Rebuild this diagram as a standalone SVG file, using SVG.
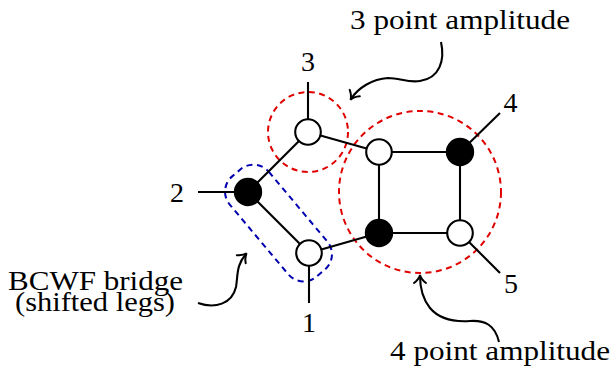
<svg xmlns="http://www.w3.org/2000/svg" width="616" height="367" viewBox="0 0 616 367">
<style>
  .edge { stroke: #000; stroke-width: 2.1; fill: none; }
  .wnode { fill: #fff; stroke: #000; stroke-width: 2.1; }
  .bnode { fill: #000; stroke: #000; stroke-width: 2; }
  .red { fill: none; stroke: #e00000; stroke-width: 2; stroke-dasharray: 6 4.5; }
  .blue { fill: none; stroke: #0000b0; stroke-width: 2; stroke-dasharray: 6 4.5; }
  .lbl { font-family: "Liberation Serif", "DejaVu Serif", serif; font-size: 28px; fill: #000; text-anchor: middle; }
  .ann { stroke: #000; stroke-width: 2.1; fill: none; marker-end: url(#tip); }
</style>
<defs>
  <marker id="tip" markerUnits="userSpaceOnUse" markerWidth="20" markerHeight="20" viewBox="-10 -10 20 20" refX="0" refY="0" orient="auto" overflow="visible">
    <path d="M -7,-6 C -4,-2 -1,-0.5 1,0 C -1,0.5 -4,2 -7,6" fill="none" stroke="#000" stroke-width="2" stroke-linecap="round"/>
  </marker>
</defs>
<rect width="616" height="367" fill="#fff"/>

<g id="regions">
  <circle class="red" cx="308" cy="132" r="40"/>
  <circle class="red" cx="420" cy="192" r="81"/>
  <rect class="blue" x="-65.5" y="-25.5" width="131" height="51" rx="20" transform="translate(278.5,223) rotate(50)"/>
</g>

<g id="connectors">
  <line class="edge" x1="248" y1="192" x2="308" y2="132"/>
  <line class="edge" x1="248" y1="192" x2="309" y2="253"/>
  <line class="edge" x1="308" y1="132" x2="379" y2="152"/>
  <line class="edge" x1="309" y1="253" x2="379" y2="233"/>
  <line class="edge" x1="379" y1="152" x2="460" y2="152"/>
  <line class="edge" x1="379" y1="233" x2="460" y2="233"/>
  <line class="edge" x1="379" y1="152" x2="379" y2="233"/>
  <line class="edge" x1="460" y1="152" x2="460" y2="233"/>
  <line class="edge" x1="308" y1="132" x2="308" y2="82"/>
  <line class="edge" x1="248" y1="192" x2="198" y2="192"/>
  <line class="edge" x1="309" y1="253" x2="309" y2="303"/>
  <line class="edge" x1="460" y1="152" x2="500" y2="113"/>
  <line class="edge" x1="460" y1="233" x2="500" y2="273"/>
  <path class="ann" d="M 441,42 C 445,60 440,78 420,81 C 408,83 400,78 388,78 C 372,79 358,88 351,99"/>
  <path class="ann" d="M 499,342 C 495,325 485,320 470,321 C 455,322 440,320 430,308 C 422,298 420,288 420,276"/>
  <path class="ann" d="M 198,303 C 215,309 232,304 236,287 C 238,276 236,265 246,254"/>
</g>

<g id="node-3"><circle class="wnode" cx="308" cy="132" r="12.8"/></g>
<g id="node-2"><circle class="bnode" cx="248" cy="192" r="13.2"/></g>
<g id="node-1"><circle class="wnode" cx="309" cy="253" r="12.8"/></g>
<g id="node-sq-tl"><circle class="wnode" cx="379" cy="152" r="12.8"/></g>
<g id="node-sq-tr"><circle class="bnode" cx="460" cy="152" r="13.2"/></g>
<g id="node-sq-bl"><circle class="bnode" cx="379" cy="233" r="13.2"/></g>
<g id="node-sq-br"><circle class="wnode" cx="460" cy="233" r="12.8"/></g>

<g id="labels">
  <text class="lbl" x="308" y="70.5">3</text>
  <text class="lbl" x="177" y="202">2</text>
  <text class="lbl" x="309" y="332">1</text>
  <text class="lbl" x="510.5" y="112">4</text>
  <text class="lbl" x="511" y="293">5</text>
  <text class="lbl" x="460" y="29" textLength="220" lengthAdjust="spacingAndGlyphs">3 point amplitude</text>
  <text class="lbl" x="500" y="360" textLength="220" lengthAdjust="spacingAndGlyphs">4 point amplitude</text>
  <text class="lbl" x="95.5" y="290" textLength="175" lengthAdjust="spacingAndGlyphs">BCWF bridge</text>
  <text class="lbl" x="95" y="311" textLength="160" lengthAdjust="spacingAndGlyphs">(shifted legs)</text>
</g>
</svg>
